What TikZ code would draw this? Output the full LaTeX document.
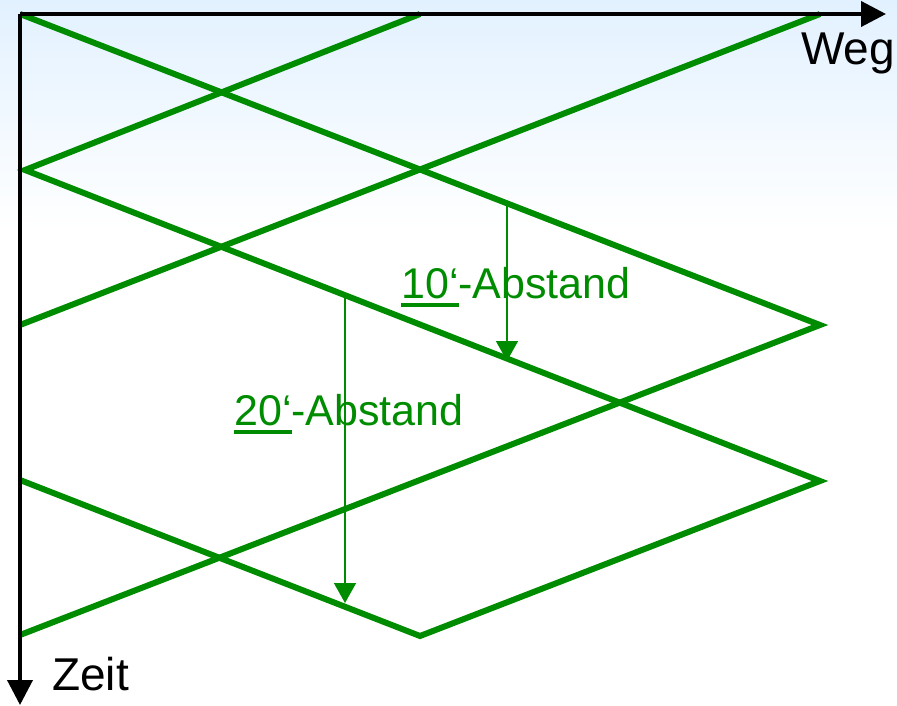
\documentclass[tikz,border=0pt]{standalone}
\usepackage{fontspec}
\setmainfont{Liberation Sans}
\usepackage{xcolor}
\usetikzlibrary{arrows.meta}
\definecolor{weggreen}{RGB}{0,140,0}
\definecolor{skyblue}{RGB}{226,241,255}
\newcommand{\minul}[1]{\setbox0\hbox{#1}\rlap{\rule[-8.5pt]{\wd0}{4pt}}\box0}
\tikzset{axis/.style={line width=4pt,-{Triangle[length=25pt,width=25pt]}},
         train/.style={line width=6pt,color=weggreen,line join=miter},
         gap/.style={line width=1.6pt,color=weggreen,-{Triangle[length=20pt,width=22pt]}},
         lab/.style={inner sep=0pt,anchor=base west,font=\fontsize{43}{50}\selectfont},
         biglab/.style={lab,font=\fontsize{46}{52}\selectfont}}

\begin{document}
\begin{tikzpicture}[x=1pt,y=-1pt]
\useasboundingbox (0,0) rectangle (897,706);
\fill[top color=skyblue,bottom color=white,draw=none] (0,0) rectangle (897,230);
% vertices of the timetable
\coordinate (O) at (20,14);
\coordinate (T1) at (420,14);
\coordinate (T2) at (820,14);
\coordinate (L1) at (25,170);
\coordinate (L2) at (20,325);
\coordinate (L3) at (20,480);
\coordinate (L4) at (20,635);
\coordinate (R1) at (820,325);
\coordinate (R2) at (820,481);
\coordinate (B) at (420,636);
\coordinate (xend) at (886,14);
\coordinate (yend) at (20,705);
% trains
\draw[train] (O) -- (R1) -- (L4);
\draw[train] (T1) -- (L1) -- (R2) -- (B) -- (L3);
\draw[train] (T2) -- (L2);
% axes
\draw[axis] (O) -- (xend);
\draw[axis] (O) -- (yend);
\node[biglab] (weg) at (801,65) {Weg};
\node[biglab] (zeit) at (52,690) {Zeit};
% distances
\coordinate (a1) at (507,205);
\coordinate (a2) at (507,361);
\coordinate (b1) at (345,296);
\coordinate (b2) at (345,603);
\draw[gap] (a1) -- (a2);
\draw[gap] (b1) -- (b2);
\node[lab,text=weggreen] (zehn) at (401,298) {\minul{10‘}-Abstand};
\node[lab,text=weggreen] (zwanzig) at (234,425) {\minul{20‘}-Abstand};
\end{tikzpicture}
\end{document}
